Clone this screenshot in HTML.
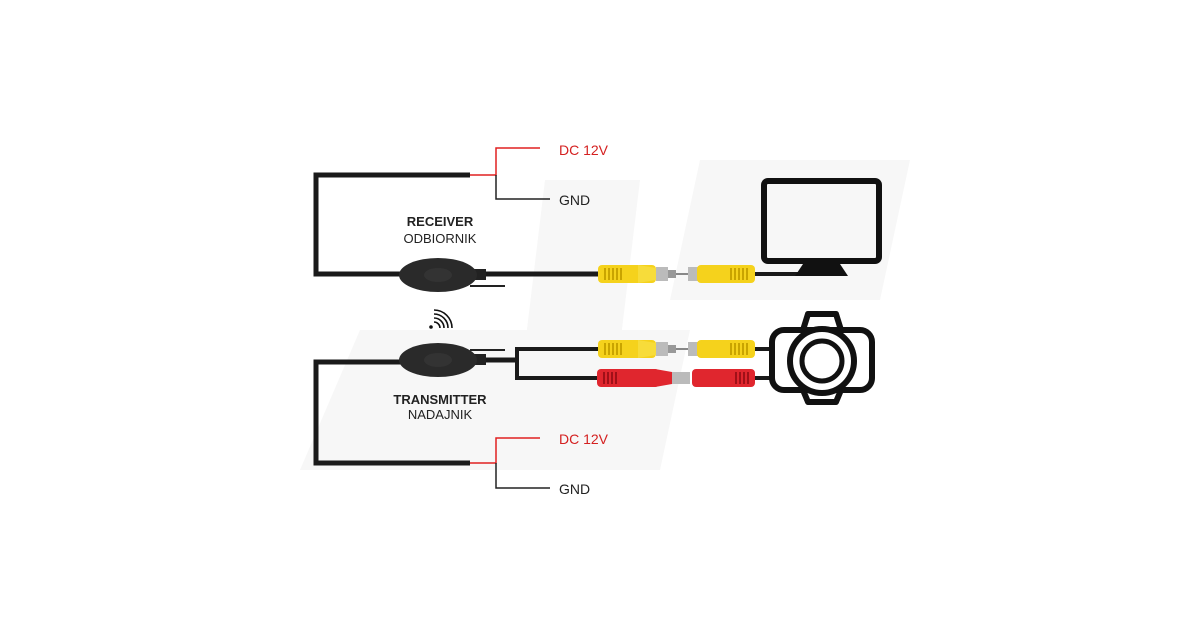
<!DOCTYPE html>
<html><head><meta charset="utf-8"><style>
html,body{margin:0;padding:0;background:#fff;}
svg{display:block}
text{font-family:"Liberation Sans",sans-serif;}
</style></head><body>
<svg width="1200" height="630" viewBox="0 0 1200 630" xmlns="http://www.w3.org/2000/svg">
<defs>
<g id="ym">
<rect x="0" y="-9" width="58" height="18" rx="4" fill="#f5d21c"/>
<path d="M40,-9 L58,-6 L58,6 L40,9 Z" fill="#f7dc3a"/>
<g fill="#c9a400"><rect x="6" y="-6" width="2" height="12"/><rect x="10" y="-6" width="2" height="12"/><rect x="14" y="-6" width="2" height="12"/><rect x="18" y="-6" width="2" height="12"/><rect x="22" y="-6" width="2" height="12"/></g>
<rect x="58" y="-7" width="12" height="14" fill="#bbb"/>
<rect x="70" y="-4" width="8" height="8" fill="#999"/>
<rect x="78" y="-1" width="12" height="2" fill="#888"/>
</g>
<g id="yf">
<rect x="0" y="-7" width="10" height="14" fill="#bbb"/>
<rect x="9" y="-9" width="58" height="18" rx="4" fill="#f5d21c"/>
<g fill="#c9a400"><rect x="42" y="-6" width="2" height="12"/><rect x="46" y="-6" width="2" height="12"/><rect x="50" y="-6" width="2" height="12"/><rect x="54" y="-6" width="2" height="12"/><rect x="58" y="-6" width="2" height="12"/></g>
</g>
</defs>
<rect width="1200" height="630" fill="#fff"/>
<!-- faint watermark -->
<g fill="#f7f7f7">
<path d="M545,180 L640,180 L605,470 L510,470 Z"/>
<path d="M700,160 L910,160 L880,300 L670,300 Z"/>
<path d="M360,330 L690,330 L660,470 L300,470 Z"/>
</g>
<!-- receiver wiring -->
<path d="M470,175 L316,175 L316,274 L600,274" fill="none" stroke="#1a1a1a" stroke-width="5"/>
<path d="M470,175 L496,175 L496,148 L540,148" fill="none" stroke="#e02020" stroke-width="1.5"/>
<path d="M496,175 L496,199 L550,199" fill="none" stroke="#222" stroke-width="1.5"/>
<text x="559" y="155" font-size="14" fill="#d42020">DC 12V</text>
<text x="559" y="205" font-size="14" fill="#222">GND</text>
<text x="440" y="226" font-size="13" font-weight="bold" fill="#222" text-anchor="middle">RECEIVER</text>
<text x="440" y="243" font-size="13" fill="#222" text-anchor="middle">ODBIORNIK</text>
<line x1="470" y1="286" x2="505" y2="286" stroke="#222" stroke-width="2"/>
<rect x="472" y="269" width="14" height="11" fill="#222"/>
<ellipse cx="438" cy="275" rx="39" ry="17" fill="#2a2a2a"/>
<ellipse cx="438" cy="275" rx="14" ry="7" fill="#333"/>
<use href="#ym" x="598" y="274"/>
<use href="#yf" x="688" y="274"/>
<line x1="755" y1="274" x2="800" y2="274" stroke="#1a1a1a" stroke-width="4"/>
<!-- TV -->
<rect x="764" y="181" width="115" height="80" rx="4" fill="none" stroke="#111" stroke-width="6"/>
<path d="M805,261 L838,261 L848,276 L795,276 Z" fill="#111"/>
<!-- wifi -->
<g fill="none" stroke="#111" stroke-width="1.6">
<path d="M434,322 a6,6 0 0 1 6,6"/><path d="M434,318 a10,10 0 0 1 10,10"/><path d="M434,314 a14,14 0 0 1 14,14"/><path d="M434,310 a18,18 0 0 1 18,18"/>
</g>
<circle cx="431" cy="327" r="1.8" fill="#111"/>
<!-- transmitter wiring -->
<path d="M470,463 L316,463 L316,362 L410,362" fill="none" stroke="#1a1a1a" stroke-width="5"/>
<path d="M460,360 L517,360" stroke="#1a1a1a" stroke-width="5"/>
<path d="M600,349 L517,349 L517,378 L600,378" fill="none" stroke="#1a1a1a" stroke-width="4"/>
<path d="M470,463 L496,463 L496,438 L540,438" fill="none" stroke="#e02020" stroke-width="1.5"/>
<path d="M496,463 L496,488 L550,488" fill="none" stroke="#222" stroke-width="1.5"/>
<text x="559" y="444" font-size="14" fill="#d42020">DC 12V</text>
<text x="559" y="494" font-size="14" fill="#222">GND</text>
<text x="440" y="404" font-size="13" font-weight="bold" fill="#222" text-anchor="middle">TRANSMITTER</text>
<text x="440" y="419" font-size="13" fill="#222" text-anchor="middle">NADAJNIK</text>
<line x1="470" y1="350" x2="505" y2="350" stroke="#222" stroke-width="2"/>
<rect x="472" y="354" width="14" height="11" fill="#222"/>
<ellipse cx="438" cy="360" rx="39" ry="17" fill="#2a2a2a"/>
<ellipse cx="438" cy="360" rx="14" ry="7" fill="#333"/>
<use href="#ym" x="598" y="349"/>
<use href="#yf" x="688" y="349"/>
<!-- red power plugs -->
<rect x="597" y="369" width="62" height="18" rx="4" fill="#e0262e"/>
<g fill="#a01018"><rect x="603" y="372" width="2" height="12"/><rect x="607" y="372" width="2" height="12"/><rect x="611" y="372" width="2" height="12"/><rect x="615" y="372" width="2" height="12"/></g>
<path d="M655,369 L672,372 L672,384 L655,387 Z" fill="#e0262e"/>
<rect x="672" y="372" width="18" height="12" fill="#bbb"/>
<rect x="692" y="369" width="63" height="18" rx="4" fill="#e0262e"/>
<g fill="#a01018"><rect x="735" y="372" width="2" height="12"/><rect x="739" y="372" width="2" height="12"/><rect x="743" y="372" width="2" height="12"/><rect x="747" y="372" width="2" height="12"/></g>
<line x1="755" y1="349" x2="775" y2="349" stroke="#1a1a1a" stroke-width="4"/>
<line x1="755" y1="378" x2="775" y2="378" stroke="#1a1a1a" stroke-width="4"/>
<!-- camera -->
<path d="M803,330 L808,314 L836,314 L841,330" fill="none" stroke="#111" stroke-width="6" stroke-linejoin="round"/>
<rect x="772" y="330" width="100" height="60" rx="12" fill="#fff" stroke="#111" stroke-width="6"/>
<path d="M803,390 L808,402 L836,402 L841,390" fill="none" stroke="#111" stroke-width="6" stroke-linejoin="round"/>
<circle cx="822" cy="361" r="32" fill="#fff" stroke="#111" stroke-width="6"/>
<circle cx="822" cy="361" r="20" fill="none" stroke="#111" stroke-width="5"/>
</svg>
</body></html>
